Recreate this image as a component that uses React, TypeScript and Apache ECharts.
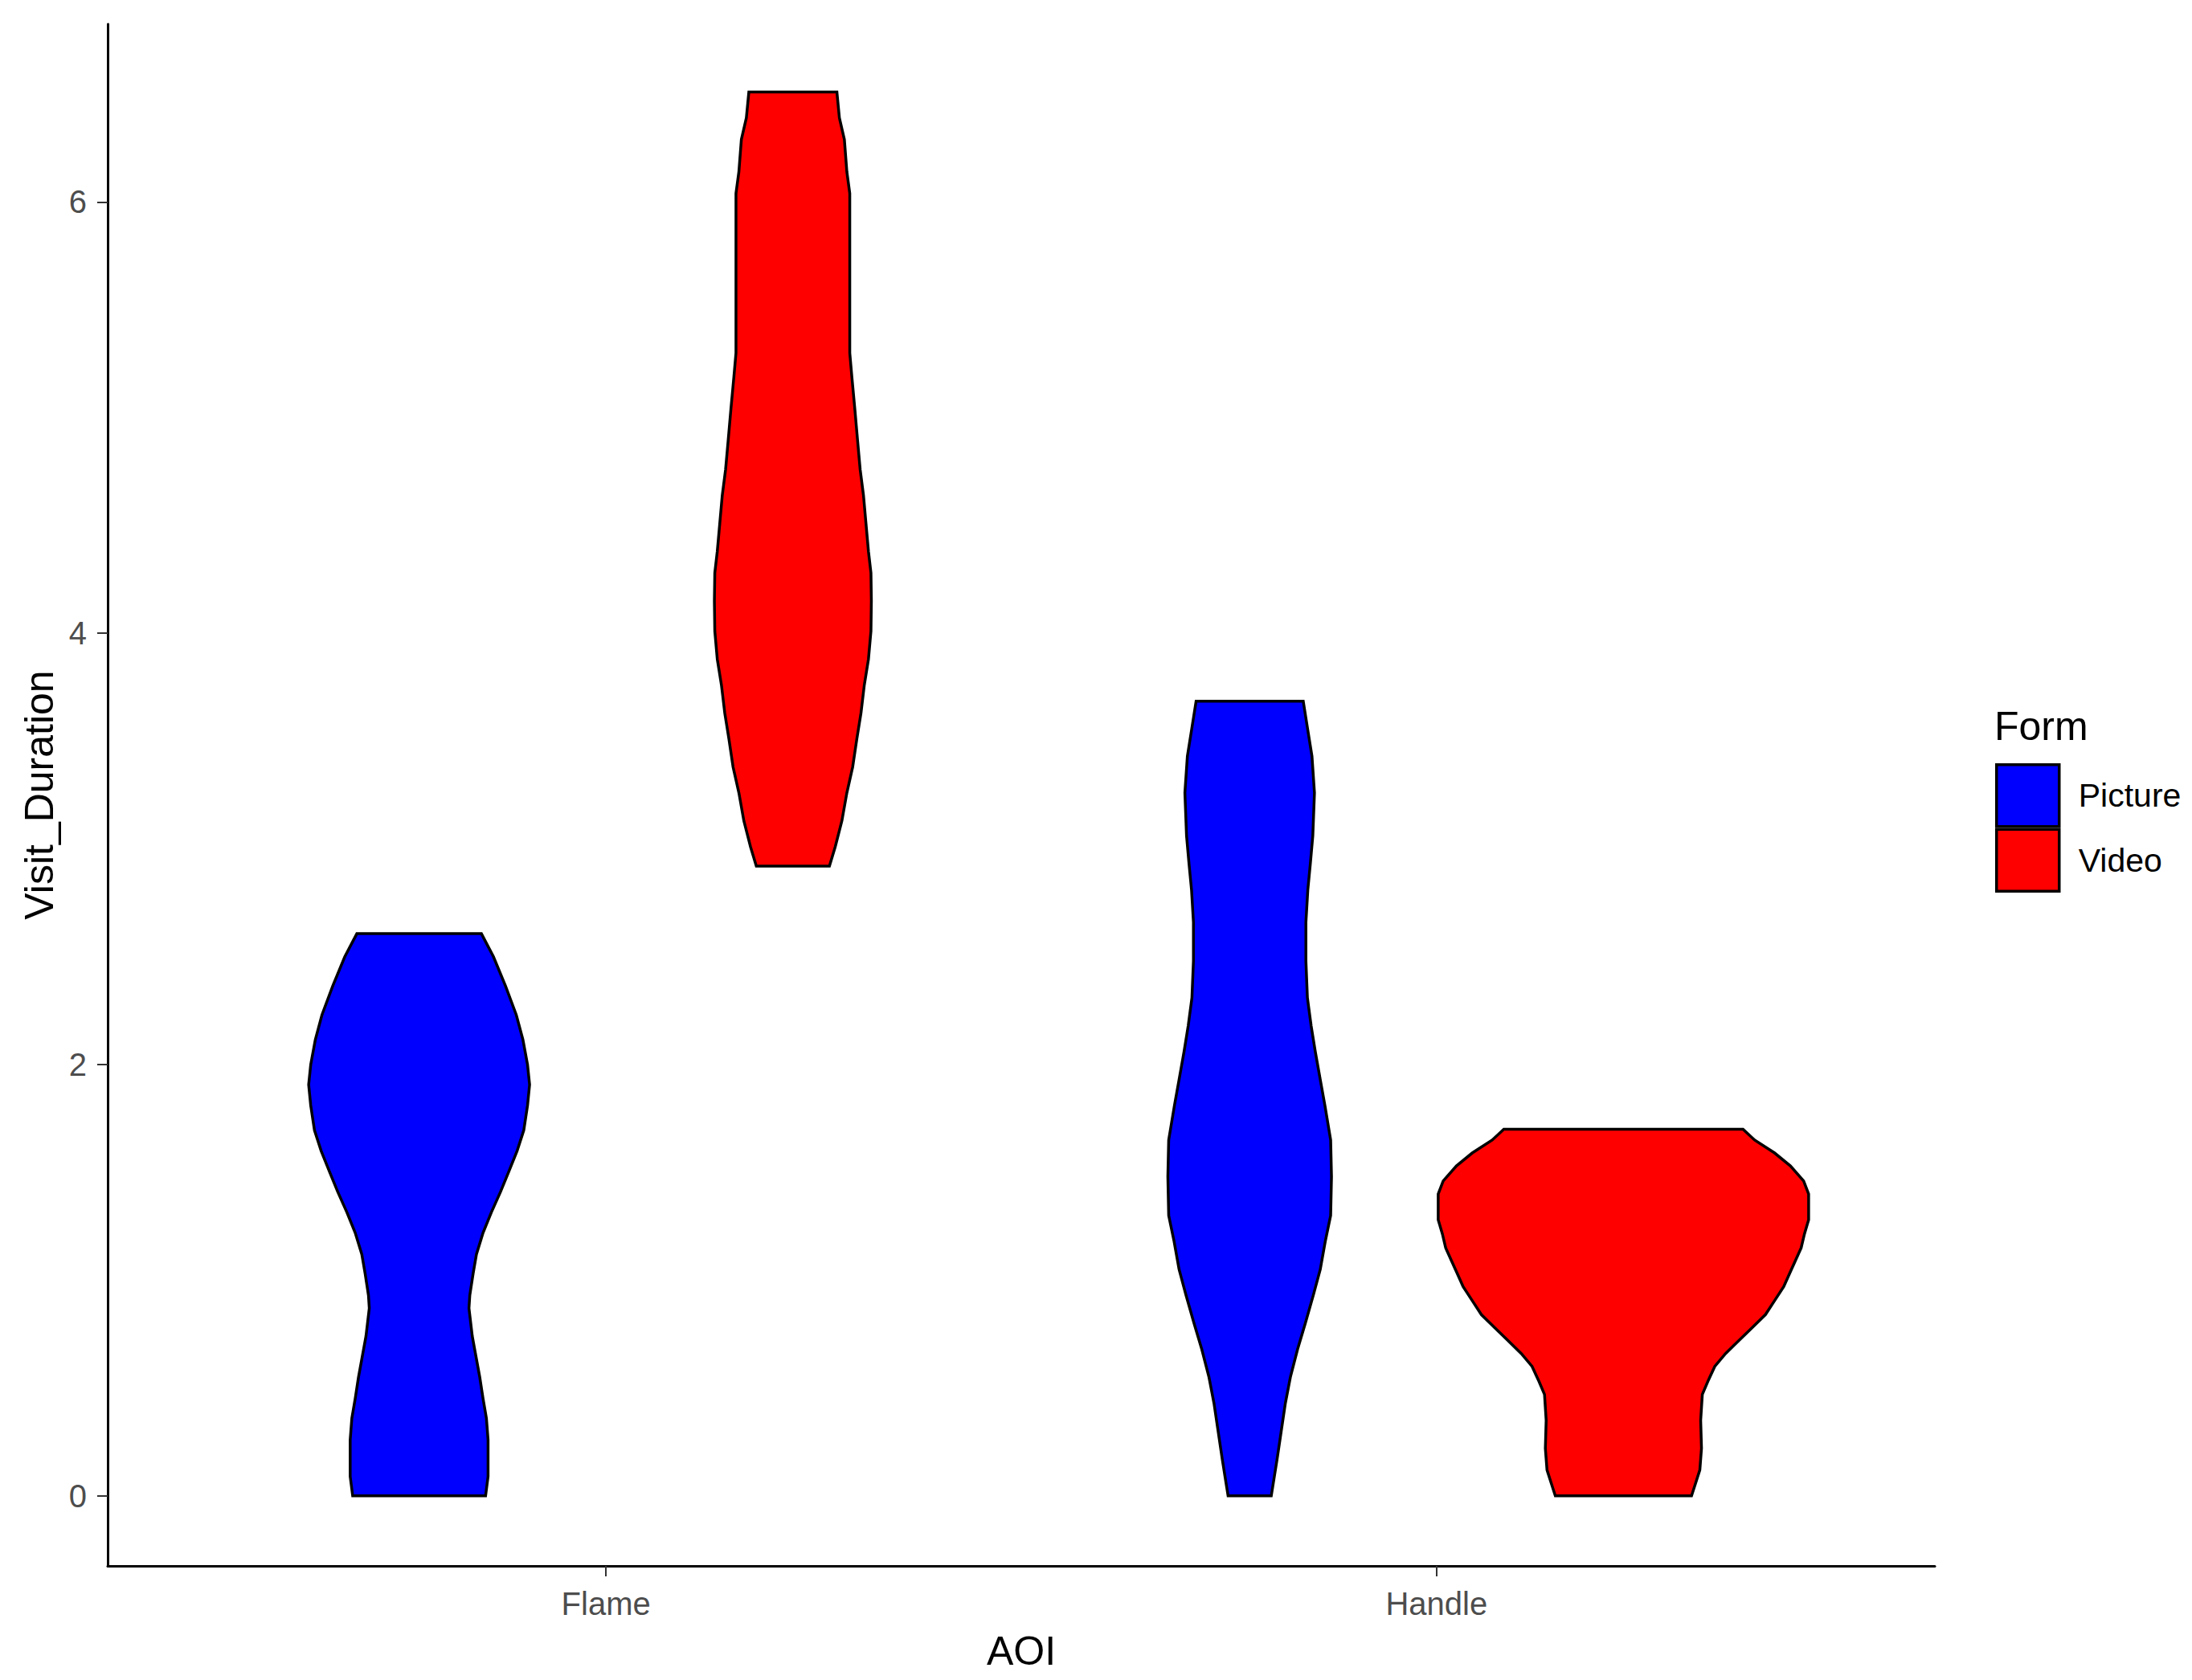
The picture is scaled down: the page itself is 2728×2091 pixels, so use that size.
import React, { useEffect, useRef } from "react";
import * as echarts from "echarts";

const categories = ["Flame", "Handle"];
const forms = ["Picture", "Video"];
const formColors = ["#0000FF", "#FF0000"];
const yTicks = [0, 2, 4, 6];
const xTicks = [1, 2];

// violin density profiles: [Visit_Duration, half-width in AOI units]
const flamePicture: number[][] = [
  [0, 0.08], [0.09, 0.083], [0.26, 0.083], [0.36, 0.081], [0.45, 0.077], [0.55, 0.073],
  [0.645, 0.0685], [0.74, 0.064], [0.87, 0.06], [0.93, 0.061], [1.03, 0.065], [1.12, 0.069],
  [1.22, 0.077], [1.315, 0.087], [1.41, 0.098], [1.504, 0.108], [1.6, 0.118], [1.695, 0.126],
  [1.81, 0.1305], [1.907, 0.133], [2.0, 0.1305], [2.115, 0.125], [2.23, 0.117], [2.365, 0.104],
  [2.5, 0.0895], [2.607, 0.075],
];
const flameVideo: number[][] = [
  [2.92, 0.044], [3.01, 0.051], [3.13, 0.059], [3.26, 0.065], [3.38, 0.072], [3.51, 0.077],
  [3.63, 0.082], [3.76, 0.086], [3.88, 0.091], [4.01, 0.094], [4.15, 0.0945], [4.28, 0.094],
  [4.38, 0.091], [4.51, 0.088], [4.64, 0.085], [4.76, 0.081], [4.89, 0.078], [5.04, 0.0746],
  [5.19, 0.071], [5.3, 0.0685], [5.64, 0.0685], [6.04, 0.0685], [6.14, 0.065], [6.29, 0.062],
  [6.39, 0.056], [6.51, 0.053],
];
const handlePicture: number[][] = [
  [0, 0.026], [0.17, 0.033], [0.3, 0.038], [0.43, 0.043], [0.55, 0.049], [0.68, 0.0577],
  [0.8, 0.067], [0.93, 0.0766], [1.05, 0.085], [1.18, 0.091], [1.3, 0.0975], [1.48, 0.0985],
  [1.65, 0.0975], [1.81, 0.0906], [1.93, 0.085], [2.06, 0.079], [2.18, 0.074], [2.31, 0.0695],
  [2.48, 0.0677], [2.66, 0.0677], [2.81, 0.07], [2.93, 0.073], [3.06, 0.076], [3.26, 0.078],
  [3.43, 0.075], [3.56, 0.0696], [3.685, 0.0645],
];
const handleVideo: number[][] = [
  [0, 0.082], [0.06, 0.087], [0.12, 0.092], [0.22, 0.094], [0.35, 0.093], [0.47, 0.095],
  [0.53, 0.1016], [0.6, 0.11], [0.66, 0.123], [0.72, 0.139], [0.78, 0.155], [0.84, 0.171],
  [0.905, 0.182], [0.97, 0.193], [1.03, 0.2], [1.09, 0.207], [1.15, 0.214], [1.215, 0.218],
  [1.28, 0.223], [1.4, 0.223], [1.46, 0.217], [1.53, 0.201], [1.59, 0.182], [1.65, 0.158],
  [1.7, 0.144],
];

const profiles: Record<string, number[][][]> = {
  Picture: [flamePicture, handlePicture],
  Video: [flameVideo, handleVideo],
};

const DODGE = 0.225;
const FONT = "'Liberation Sans', Arial, sans-serif";

function violinSeries(fi: number) {
  const form = forms[fi];
  const offset = fi === 0 ? -DODGE : DODGE;
  return {
    type: "custom",
    name: form,
    itemStyle: { color: formColors[fi] },
    data: categories.map((_, i) => [i + 1, 0]),
    encode: { x: 0, y: 1 },
    renderItem: (params: any, api: any) => {
      const pos = api.value(0);
      const prof = profiles[form][pos - 1];
      const cx = pos + offset;
      const left = prof.map(([v, w]) => api.coord([cx - w, v]));
      const right = prof
        .slice()
        .reverse()
        .map(([v, w]) => api.coord([cx + w, v]));
      return {
        type: "polygon",
        shape: { points: left.concat(right) },
        style: { fill: formColors[fi], stroke: "#000", lineWidth: 3.5 },
      };
    },
  };
}

export default function App() {
  const ref = useRef<HTMLDivElement>(null);
  useEffect(() => {
    if (!ref.current) return;
    const chart = echarts.init(ref.current, null, { renderer: "svg" });
    chart.setOption({
      animation: false,
      backgroundColor: "#fff",
      textStyle: { fontFamily: FONT },
      title: {
        text: "Form",
        left: 2477,
        top: 874,
        textStyle: { fontSize: 50, fontWeight: "normal", color: "#000", fontFamily: FONT },
      },
      legend: {
        orient: "vertical",
        left: 2478,
        top: 945,
        itemWidth: 78,
        itemHeight: 77,
        itemGap: 0,
        icon: "rect",
        selectedMode: false,
        data: forms,
        itemStyle: { borderColor: "#000", borderWidth: 3.5 },
        textStyle: { fontSize: 41, color: "#000", fontFamily: FONT, padding: [0, 0, 0, 19] },
      },
      grid: { left: 134, right: 320, top: 30, bottom: 142 },
      xAxis: {
        type: "value",
        min: 0.4,
        max: 2.6,
        name: "AOI",
        nameLocation: "middle",
        nameGap: 81,
        nameTextStyle: { fontSize: 50, color: "#000", fontFamily: FONT },
        axisLine: { onZero: false, lineStyle: { color: "#000", width: 3 } },
        axisTick: { customValues: xTicks, length: 13, lineStyle: { color: "#333", width: 2 } },
        axisLabel: {
          customValues: xTicks,
          formatter: (v: number) => categories[Math.round(v) - 1] ?? "",
          fontSize: 40,
          color: "#4D4D4D",
          margin: 27,
          fontFamily: FONT,
        },
        splitLine: { show: false },
      },
      yAxis: {
        type: "value",
        min: -0.325,
        max: 6.825,
        name: "Visit_Duration",
        nameLocation: "middle",
        nameRotate: 90,
        nameGap: 60,
        nameTextStyle: { fontSize: 50, color: "#000", fontFamily: FONT },
        axisLine: { show: true, onZero: false, lineStyle: { color: "#000", width: 3 } },
        axisTick: { show: true, customValues: yTicks, length: 13, lineStyle: { color: "#333", width: 2 } },
        axisLabel: {
          customValues: yTicks,
          fontSize: 40,
          color: "#4D4D4D",
          margin: 26,
          fontFamily: FONT,
        },
        splitLine: { show: false },
      },
      series: [violinSeries(0), violinSeries(1)],
    });
    return () => chart.dispose();
  }, []);
  return (
    <div
      ref={ref}
      style={{ position: "absolute", left: 0, top: 0, width: 2728, height: 2091 }}
    />
  );
}
